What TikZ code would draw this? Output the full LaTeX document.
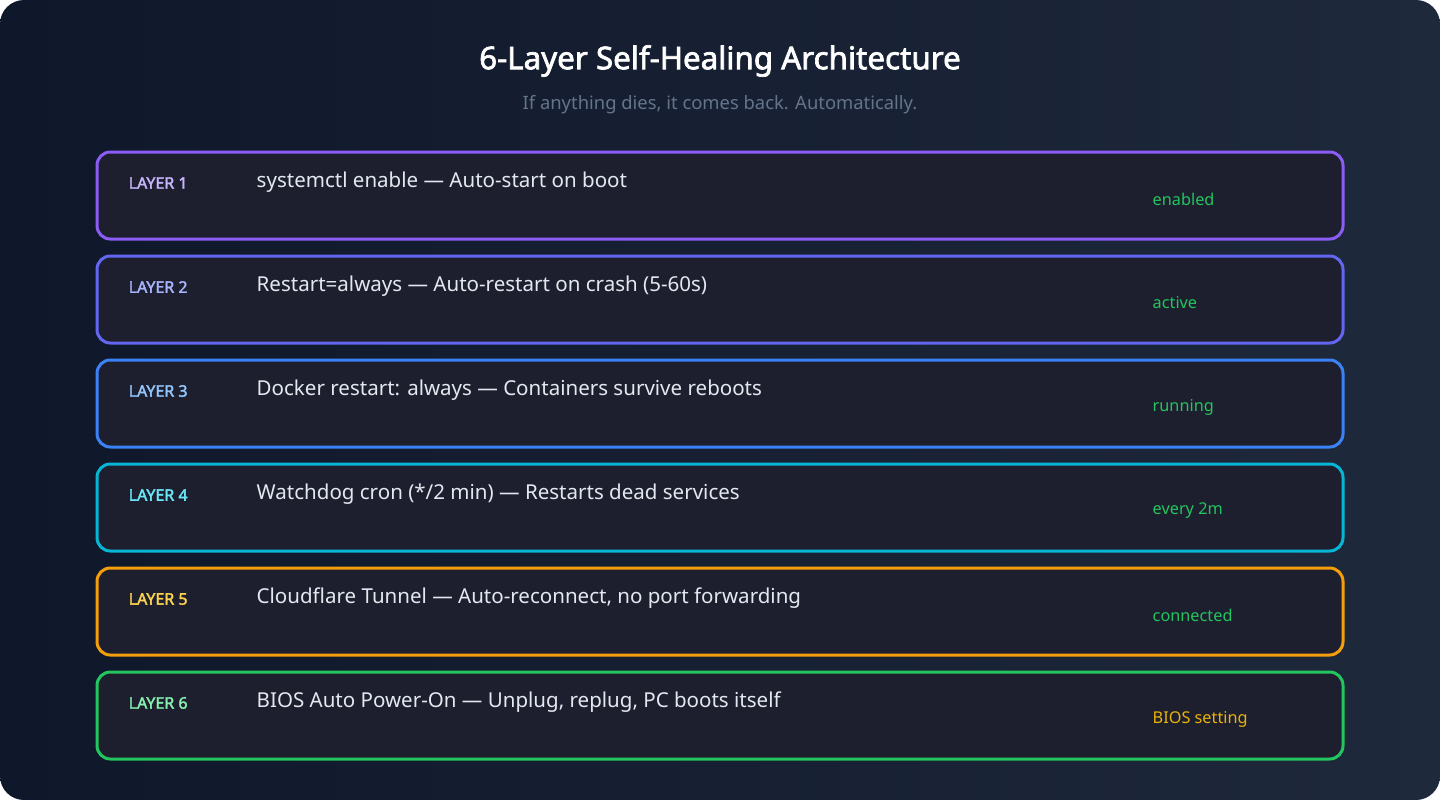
\documentclass[tikz,border=0pt]{standalone}
\usepackage{fontspec}
\setmainfont{Noto Sans}
\newfontfamily\nbold{Noto Sans}[FakeBold=2.2]
\begin{document}
\begin{tikzpicture}[x=0.75pt,y=-0.75pt,
  box/.style={draw=#1,line width=2.25pt,rounded corners=10pt,fill=boxbg},
  lab/.style={anchor=west,font=\nbold\fontsize{12}{14}\selectfont},
  txt/.style={anchor=west,text=txtc,font=\fontsize{15.4}{18}\selectfont},
  st/.style={anchor=west,font=\fontsize{12.2}{14}\selectfont}]
\definecolor{bgA}{HTML}{0F172A}\definecolor{bgB}{HTML}{1E293B}
\definecolor{boxbg}{HTML}{1E1F2E}\definecolor{txtc}{HTML}{E2E8F0}
\definecolor{sub}{HTML}{64748B}\definecolor{ok}{HTML}{22C55E}\definecolor{warn}{HTML}{EAB308}
\definecolor{b1}{HTML}{8B5CF6}\definecolor{l1}{HTML}{C4B5FD}
\definecolor{b2}{HTML}{6366F1}\definecolor{l2}{HTML}{A5B4FC}
\definecolor{b3}{HTML}{3B82F6}\definecolor{l3}{HTML}{93C5FD}
\definecolor{b4}{HTML}{06B6D4}\definecolor{l4}{HTML}{67E8F9}
\definecolor{b5}{HTML}{F59E0B}\definecolor{l5}{HTML}{FCD34D}
\definecolor{b6}{HTML}{22C55E}\definecolor{l6}{HTML}{86EFAC}
\useasboundingbox (0,0) rectangle (1440,800);
\fill[white] (0,0) rectangle (1440,800);
\shade[rounded corners=18pt,left color=bgA,right color=bgB] (0,0) rectangle (1440,800);
\node[text=white,font=\nbold\fontsize{23.5}{28}\selectfont] (title) at (720,61) {6-Layer Self-Healing Architecture};
\node[text=sub,font=\fontsize{13.8}{16}\selectfont] (subtitle) at (720,105) {If anything dies, it comes back. Automatically.};
\foreach \i/\t/\s/\sc in {
 1/{systemctl enable — Auto-start on boot}/enabled/ok,
 2/{Restart=always — Auto-restart on crash (5-60s)}/active/ok,
 3/{Docker restart: always — Containers survive reboots}/running/ok,
 4/{Watchdog cron (*/2 min) — Restarts dead services}/every 2m/ok,
 5/{Cloudflare Tunnel — Auto-reconnect, no port forwarding}/connected/ok,
 6/{BIOS Auto Power-On — Unplug, replug, PC boots itself}/BIOS setting/warn}{
 \pgfmathsetmacro\y{152+104*(\i-1)}
 \draw[box=b\i] (97,\y) rectangle (1343,\y+87);
 \node[lab,text=l\i] (lab\i) at (124,\y+31) {LAYER \i};
 \node[txt] (txt\i) at (252,\y+30) {\t};
 \node[st,text=\sc] (st\i) at (1148,\y+47) {\s};
}
\end{tikzpicture}
\end{document}
